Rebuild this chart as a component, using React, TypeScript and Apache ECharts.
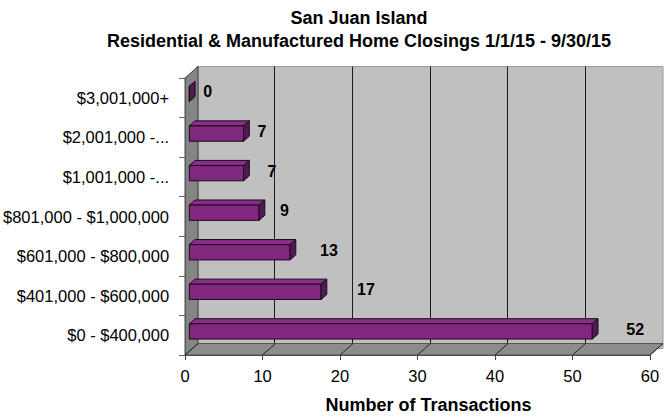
import React, { useEffect, useRef } from "react";
import * as echarts from "echarts";

// ---- data ----
const categories = [
  "$0 - $400,000",
  "$401,000 - $600,000",
  "$601,000 - $800,000",
  "$801,000 - $1,000,000",
  "$1,001,000 -...",
  "$2,001,000 -...",
  "$3,001,000+",
];
const transactions = [52, 17, 13, 9, 7, 7, 0];
const xTicks = [0, 10, 20, 30, 40, 50, 60];
const titleLines = [
  "San Juan Island",
  "Residential & Manufactured Home Closings 1/1/15 - 9/30/15",
];
const axisTitle = "Number of Transactions";

// ---- style constants ----
const FONT = "Liberation Sans, Arial, sans-serif";
const DX = 13;
const DY = -11.5;
const BAR_FRONT = 0.33;
const BAR_BACK = 0.77;
const BAR_RATIO = 0.387;
const LABEL_GAP = [34, 36, 30, 21, 24, 14, 14];
const GRID = { left: 184, right: 14, top: 78, bottom: 59 };

export default function App() {
  const ref = useRef<HTMLDivElement>(null);

  useEffect(() => {
    if (!ref.current) return;
    const chart = echarts.init(ref.current, undefined, { renderer: "svg" });

    const wallsItem = (params: any, api: any) => {
      const cs = params.coordSys;
      const x0 = cs.x;
      const y0 = cs.y;
      const w = cs.width;
      const b = cs.y + cs.height;
      const children: any[] = [
        {
          type: "polygon",
          shape: { points: [[x0, y0], [x0 + DX, y0 + DY], [x0 + DX, b + DY], [x0, b]] },
          style: { fill: "#858585", stroke: "#3a3a3a", lineWidth: 1 },
        },
        {
          type: "polygon",
          shape: { points: [[x0, b], [x0 + DX, b + DY], [x0 + w + DX, b + DY], [x0 + w, b]] },
          style: { fill: "#8c8c8c", stroke: "#555", lineWidth: 1 },
        },
      ];
      xTicks.forEach((t) => {
        const x = api.coord([t, 0])[0];
        children.push({
          type: "line",
          shape: { x1: x, y1: b, x2: x + DX, y2: b + DY },
          style: { stroke: "#222", lineWidth: 1 },
        });
      });
      return { type: "group", children };
    };

    const barItem = (params: any, api: any) => {
      const v = api.value(0);
      const c = api.value(1);
      const [xe, yc] = api.coord([v, c]);
      const xs = api.coord([0, c])[0];
      const band = api.size([0, 1])[1];
      const hh = band * BAR_RATIO;
      const fx = DX * BAR_FRONT;
      const fy = DY * BAR_FRONT;
      const bx = DX * BAR_BACK;
      const by = DY * BAR_BACK;
      const top = yc - hh / 2;
      const bot = yc + hh / 2;
      const stroke = { stroke: "#1a0a1a", lineWidth: 1, lineJoin: "round" };
      return {
        type: "group",
        children: [
          {
            type: "polygon",
            shape: {
              points: [[xs + fx, top + fy], [xe + fx, top + fy], [xe + bx, top + by], [xs + bx, top + by]],
            },
            style: { fill: "#8a2d8a", ...stroke },
          },
          {
            type: "rect",
            shape: { x: xs + fx, y: top + fy, width: xe - xs, height: hh },
            style: { fill: "#80287f", ...stroke },
          },
          {
            type: "polygon",
            shape: {
              points: [[xe + fx, top + fy], [xe + bx, top + by], [xe + bx, bot + by], [xe + fx, bot + fy]],
            },
            style: { fill: "#521a52", ...stroke },
          },
          {
            type: "text",
            x: xe + fx + LABEL_GAP[params.dataIndex],
            y: yc + fy - 2,
            style: {
              text: String(v),
              fill: "#000",
              font: `bold 16px ${FONT}`,
              textAlign: "left",
              textVerticalAlign: "middle",
            },
          },
        ],
      };
    };

    chart.setOption({
      animation: false,
      backgroundColor: "#fff",
      graphic: titleLines.map((t, i) => ({
        type: "text",
        x: 359,
        y: 18 + i * 23,
        style: {
          text: t,
          fill: "#000",
          font: `bold 18px ${FONT}`,
          textAlign: "center",
          textVerticalAlign: "middle",
        },
      })),
      grid: [
        { ...GRID },
        {
          left: GRID.left + DX,
          right: GRID.right - DX,
          top: GRID.top + DY,
          bottom: GRID.bottom - DY,
          show: true,
          backgroundColor: "#c0c0c0",
          borderColor: "#9a9a9a",
          borderWidth: 1,
          z: -1,
        },
      ],
      xAxis: [
        {
          gridIndex: 0,
          type: "value",
          min: 0,
          max: 60,
          interval: 10,
          axisLine: { show: true, lineStyle: { color: "#444" } },
          axisTick: { show: true, length: 5, lineStyle: { color: "#444" } },
          axisLabel: { fontSize: 16.5, color: "#000", fontFamily: FONT, margin: 12 },
          splitLine: { show: false },
          name: axisTitle,
          nameLocation: "middle",
          nameGap: 41,
          nameTextStyle: {
            fontFamily: FONT,
            fontSize: 18,
            fontWeight: "bold",
            color: "#000",
            padding: [0, 0, 0, 22],
          },
        },
        {
          gridIndex: 1,
          type: "value",
          min: 0,
          max: 60,
          interval: 10,
          axisLine: { show: false },
          axisTick: { show: false },
          axisLabel: { show: false },
          splitLine: { show: true, showMinLine: false, showMaxLine: false, lineStyle: { color: "#1a1a1a", width: 1 } },
        },
      ],
      yAxis: [
        {
          gridIndex: 0,
          type: "category",
          data: categories,
          axisLine: { show: true, lineStyle: { color: "#444" } },
          axisTick: { show: true, length: 6, lineStyle: { color: "#666" } },
          axisLabel: { fontSize: 16.5, color: "#000", fontFamily: FONT, margin: 16 },
        },
        {
          gridIndex: 1,
          type: "category",
          data: categories,
          show: false,
        },
      ],
      series: [
        {
          type: "custom",
          xAxisIndex: 0,
          yAxisIndex: 0,
          data: [[0, 0]],
          renderItem: wallsItem,
          silent: true,
          clip: false,
        },
        {
          type: "custom",
          xAxisIndex: 0,
          yAxisIndex: 0,
          data: transactions.map((v, i) => [v, i]),
          encode: { x: 0, y: 1 },
          renderItem: barItem,
          clip: false,
        },
      ],
    });

    return () => chart.dispose();
  }, []);

  return (
    <div
      ref={ref}
      style={{ position: "fixed", left: 0, top: 0, width: 664, height: 419 }}
    />
  );
}
